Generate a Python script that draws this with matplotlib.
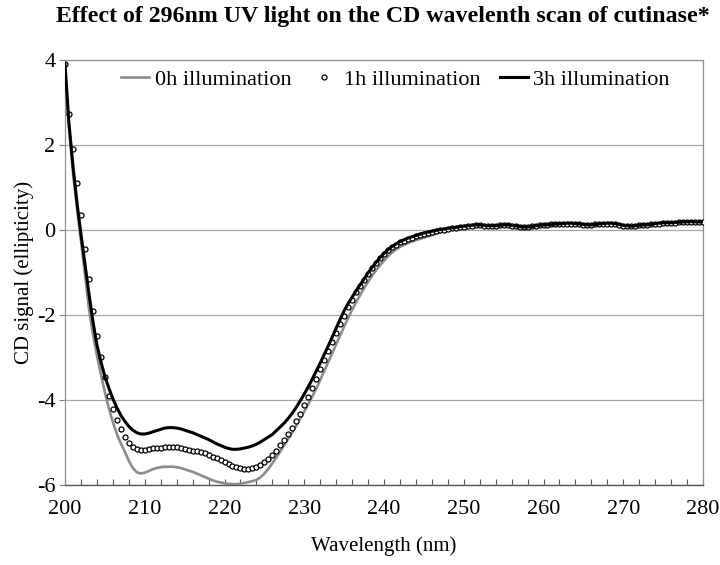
import numpy as np
import matplotlib
matplotlib.use('Agg')
import matplotlib.pyplot as plt
from matplotlib.ticker import MultipleLocator

plt.rcParams['font.family'] = ['Liberation Serif', 'DejaVu Serif']
plt.rcParams['axes.unicode_minus'] = False

# longitud de onda cada 0.5 nm
wavelength = np.arange(200, 280.5, 0.5)

cd_0h = [
    3.70, 2.40, 1.35, 0.50, -0.25, -1.05, -1.85, -2.45, -2.95, -3.40,
    -3.82, -4.20, -4.52, -4.80, -5.02, -5.22, -5.43, -5.60, -5.70, -5.73,
    -5.71, -5.67, -5.63, -5.60, -5.58, -5.57, -5.57, -5.57, -5.58, -5.60,
    -5.63, -5.66, -5.69, -5.73, -5.77, -5.81, -5.85, -5.89, -5.92, -5.94,
    -5.96, -5.97, -5.98, -5.98, -5.97, -5.95, -5.93, -5.91, -5.88, -5.82,
    -5.73, -5.62, -5.49, -5.35, -5.21, -5.06, -4.91, -4.76, -4.60, -4.43,
    -4.27, -4.10, -3.92, -3.73, -3.53, -3.32, -3.11, -2.90, -2.69, -2.48,
    -2.27, -2.07, -1.88, -1.70, -1.53, -1.37, -1.22, -1.08, -0.95, -0.83,
    -0.72, -0.62, -0.53, -0.46, -0.40, -0.35, -0.31, -0.27, -0.24, -0.21,
    -0.18, -0.15, -0.12, -0.09, -0.06, -0.03, 0.00, 0.02, 0.04, 0.06,
    0.08, 0.09, 0.10, 0.11, 0.11, 0.10, 0.09, 0.09, 0.10, 0.11,
    0.12, 0.11, 0.10, 0.09, 0.07, 0.06, 0.07, 0.08, 0.10, 0.11,
    0.12, 0.12, 0.13, 0.14, 0.14, 0.15, 0.15, 0.16, 0.15, 0.14,
    0.13, 0.12, 0.12, 0.13, 0.14, 0.15, 0.16, 0.16, 0.15, 0.13,
    0.11, 0.10, 0.09, 0.10, 0.11, 0.12, 0.12, 0.13, 0.15, 0.16,
    0.17, 0.17, 0.17, 0.18, 0.18, 0.19, 0.19, 0.20, 0.19, 0.19,
    0.19]

cd_1h = [
    3.90, 2.74, 1.90, 1.10, 0.35, -0.45, -1.15, -1.90, -2.50, -3.00,
    -3.45, -3.90, -4.22, -4.48, -4.68, -4.86, -5.02, -5.11, -5.16, -5.18,
    -5.18, -5.16, -5.14, -5.13, -5.12, -5.11, -5.10, -5.10, -5.11, -5.13,
    -5.15, -5.17, -5.19, -5.21, -5.23, -5.25, -5.29, -5.33, -5.37, -5.41,
    -5.46, -5.51, -5.55, -5.58, -5.61, -5.63, -5.63, -5.61, -5.57, -5.52,
    -5.46, -5.38, -5.29, -5.19, -5.07, -4.94, -4.80, -4.65, -4.49, -4.32,
    -4.12, -3.92, -3.71, -3.50, -3.28, -3.06, -2.85, -2.63, -2.42, -2.22,
    -2.02, -1.82, -1.64, -1.47, -1.32, -1.17, -1.03, -0.90, -0.78, -0.67,
    -0.57, -0.48, -0.41, -0.35, -0.29, -0.25, -0.21, -0.18, -0.15, -0.12,
    -0.09, -0.07, -0.05, -0.03, -0.01, 0.01, 0.03, 0.04, 0.05, 0.07,
    0.08, 0.09, 0.10, 0.11, 0.11, 0.10, 0.09, 0.09, 0.10, 0.11,
    0.11, 0.11, 0.10, 0.09, 0.08, 0.07, 0.08, 0.09, 0.10, 0.11,
    0.11, 0.12, 0.13, 0.13, 0.14, 0.15, 0.15, 0.15, 0.14, 0.13,
    0.12, 0.12, 0.12, 0.13, 0.14, 0.15, 0.15, 0.15, 0.14, 0.12,
    0.10, 0.09, 0.09, 0.10, 0.11, 0.12, 0.12, 0.13, 0.14, 0.15,
    0.16, 0.16, 0.17, 0.17, 0.18, 0.18, 0.19, 0.19, 0.18, 0.18,
    0.18]

cd_3h = [
    3.90, 2.50, 1.50, 0.65, -0.10, -0.80, -1.50, -2.15, -2.70, -3.10,
    -3.45, -3.72, -3.97, -4.18, -4.36, -4.50, -4.62, -4.71, -4.77, -4.80,
    -4.80, -4.78, -4.75, -4.72, -4.69, -4.66, -4.65, -4.65, -4.66, -4.68,
    -4.71, -4.74, -4.77, -4.81, -4.85, -4.89, -4.93, -4.98, -5.03, -5.07,
    -5.11, -5.14, -5.16, -5.16, -5.15, -5.13, -5.11, -5.08, -5.04, -4.99,
    -4.93, -4.87, -4.81, -4.72, -4.63, -4.54, -4.43, -4.31, -4.17, -4.02,
    -3.86, -3.69, -3.51, -3.32, -3.13, -2.93, -2.73, -2.52, -2.31, -2.10,
    -1.90, -1.73, -1.58, -1.43, -1.29, -1.15, -1.01, -0.88, -0.76, -0.65,
    -0.55, -0.46, -0.39, -0.33, -0.27, -0.23, -0.19, -0.16, -0.13, -0.10,
    -0.07, -0.05, -0.03, -0.01, 0.01, 0.02, 0.04, 0.05, 0.06, 0.08,
    0.09, 0.10, 0.11, 0.12, 0.12, 0.11, 0.10, 0.10, 0.10, 0.11,
    0.12, 0.12, 0.11, 0.10, 0.08, 0.07, 0.07, 0.08, 0.10, 0.11,
    0.12, 0.12, 0.13, 0.14, 0.14, 0.15, 0.16, 0.16, 0.15, 0.14,
    0.13, 0.12, 0.12, 0.13, 0.14, 0.15, 0.16, 0.16, 0.15, 0.13,
    0.11, 0.10, 0.09, 0.10, 0.11, 0.12, 0.12, 0.13, 0.15, 0.16,
    0.17, 0.17, 0.17, 0.18, 0.18, 0.19, 0.19, 0.20, 0.19, 0.19,
    0.19]

fig = plt.figure(figsize=(7.2, 5.65), dpi=100)
ax = fig.add_axes([0.0903, 0.1416, 0.8861, 0.7522])

ax.plot(wavelength, cd_0h, color='#8c8c8c', lw=1.9, label='0h illumination', zorder=3)
ax.plot(wavelength, cd_1h, ls='none', marker='o', ms=3.6, mfc='white', mec='black',
        mew=0.9, label='1h illumination', zorder=4)
ax.plot(wavelength, cd_3h, color='black', lw=2.2, label='3h illumination', zorder=5)

ax.set_xlim(200, 280)
ax.set_ylim(-6, 4)
ax.xaxis.set_major_locator(MultipleLocator(10))
ax.xaxis.set_minor_locator(MultipleLocator(2))
ax.yaxis.set_major_locator(MultipleLocator(2))
ax.tick_params(axis='x', which='both', direction='in', length=4, width=0.8,
               color='#555555', labelsize=16, pad=11)
ax.tick_params(axis='y', direction='out', length=4, width=0.8, color='#808080',
               labelsize=16, pad=3)
ax.grid(axis='y', color='#a8a8a8', lw=0.9)
for s in ['top', 'right', 'left']:
    ax.spines[s].set_color('#909090')
    ax.spines[s].set_linewidth(0.9)
ax.spines['bottom'].set_color('#555555')
ax.spines['bottom'].set_linewidth(1.0)

ax.set_xlabel('Wavelength (nm)', fontsize=15, labelpad=12)
ax.set_ylabel('CD signal (ellipticity)', fontsize=15, labelpad=2)
fig.suptitle('Effect of 296nm UV light on the CD wavelenth scan of cutinase*',
             fontsize=17.2, fontweight='bold', x=0.532, y=0.99)

ax.legend(loc='center', bbox_to_anchor=(0.518, 0.953), ncol=3, frameon=False,
          fontsize=16, handlelength=1.26, handletextpad=0.25, columnspacing=0.85)

fig.savefig('out.png', dpi=100)
